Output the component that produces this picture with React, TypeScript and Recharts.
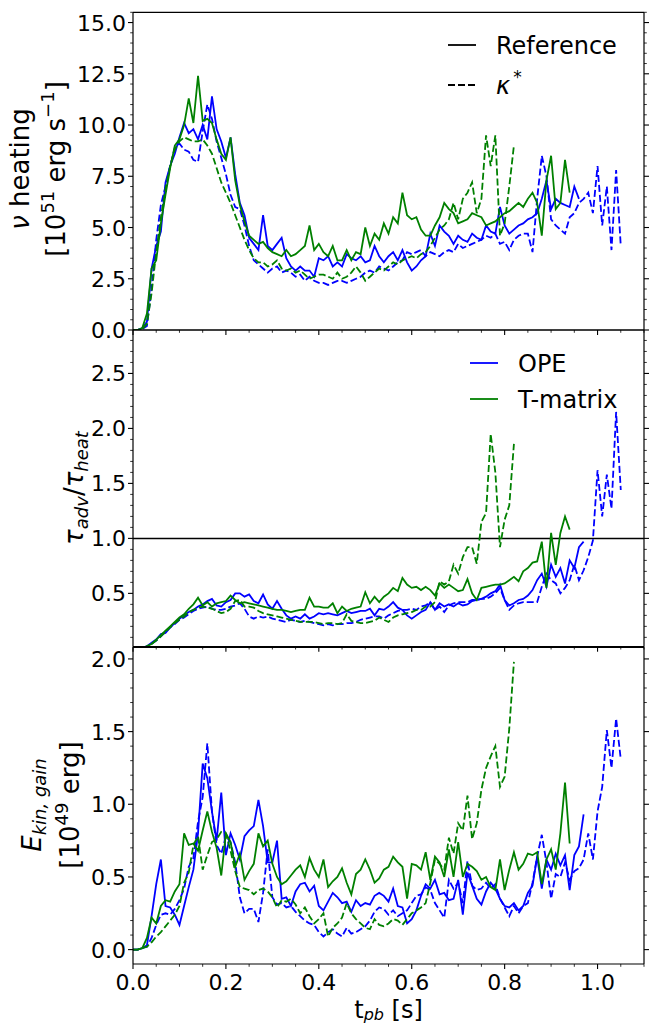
import React from "react";
import { LineChart, Line, XAxis, YAxis, ReferenceLine, Legend } from "recharts";

const BLUE = "#0000ff";
const GREEN = "#008000";
const FONT = "'DejaVu Sans', sans-serif";
const AXIS_LINE = { stroke: "#000", strokeWidth: 1.2 };

// all series sampled every 10 ms of post-bounce time, starting at t = 0
const STEP = 0.01;

// nu heating [1e51 erg/s]
const HEAT_OPE_REF = [
  0, 0, 0.1, 0.4, 3.0, 4.1, 4.8, 7.2, 8.0, 8.6,
  9.4, 10.1, 9.6, 9.8, 9.3, 10.0, 9.3, 11.4, 9.8, 9.2,
  8.4, 9.4, 7.6, 6.2, 5.6, 4.5, 4.2, 3.9, 5.6, 4.1,
  3.9, 4.2, 4.5, 3.5, 3.1, 2.9, 3.1, 2.9, 2.9, 2.6,
  3.5, 3.4, 3.6, 3.1, 3.3, 3.1, 3.7, 3.5, 3.4, 3.6,
  3.3, 3.4, 4.1, 3.6, 3.3, 3.6, 3.8, 3.4, 3.9, 3.3,
  2.9, 3.1, 3.4, 3.6, 4.7, 4.1, 5.1, 4.8, 4.6, 4.2,
  4.6, 4.4, 4.3, 4.7, 4.5, 4.4, 5.1, 4.8, 4.7, 6.0,
  5.1, 4.7, 4.9, 5.1, 5.2, 5.4, 5.5, 5.7, 6.4, 7.3,
  5.9, 6.4, 6.2, 6.1, 6.0, 7.0, 6.4,
];
const HEAT_OPE_KAPPA = [
  0, 0, 0.05, 0.2, 2.0, 4.4, 6.1, 7.0, 8.0, 8.9,
  9.1, 8.8, 8.7, 8.3, 8.2, 9.7, 11.0, 10.3, 9.2, 8.4,
  7.6, 6.6, 6.0, 5.9, 5.1, 4.1, 3.4, 3.2, 3.0, 2.8,
  3.0, 3.1, 2.8, 2.9, 2.8, 2.6, 2.7, 2.4, 2.6, 2.4,
  2.3, 2.3, 2.2, 2.3, 2.4, 2.4, 2.3, 2.4, 2.5, 2.6,
  2.8, 2.9, 2.8, 3.1, 3.0, 2.9, 3.1, 3.3, 3.4, 3.8,
  3.7, 3.8, 3.9, 3.6, 3.8, 3.7, 3.6, 3.8, 3.9, 3.8,
  4.2, 4.0, 4.1, 4.2, 4.3, 4.4, 4.6, 4.5, 4.7, 4.2,
  4.3, 3.9, 4.4, 4.6, 4.7, 4.7, 3.8, 6.4, 8.5, 7.5,
  5.4, 5.1, 4.9, 4.7, 5.5, 5.7, 6.2, 6.4, 6.7, 5.7,
  8.0, 5.1, 7.0, 3.9, 7.8, 4.1,
];
const HEAT_TM_REF = [
  0, 0, 0.1, 0.8, 3.0, 3.4, 5.2, 6.6, 7.9, 9.0,
  9.3, 10.0, 11.3, 10.1, 12.4, 10.2, 10.3, 10.1, 9.3, 8.6,
  8.3, 9.4, 7.3, 6.1, 5.3, 4.6, 4.4, 4.2, 4.3, 4.0,
  3.8, 3.7, 3.6, 3.9, 3.6, 3.7, 3.9, 4.1, 5.1, 3.9,
  4.2, 3.8, 3.6, 4.1, 3.4, 3.4, 3.9, 3.4, 3.8, 3.7,
  5.0, 4.1, 4.7, 4.4, 5.2, 4.7, 5.5, 5.2, 6.7, 5.6,
  5.4, 5.5, 4.9, 4.6, 4.6, 5.1, 5.5, 6.2, 5.9, 5.7,
  5.2, 5.3, 5.4, 5.7, 5.6, 5.5, 5.1, 5.2, 5.3, 5.5,
  5.7, 5.8, 6.0, 6.2, 6.0, 6.4, 6.7, 6.2, 4.6, 7.3,
  8.5, 5.9, 6.2, 8.3, 6.7,
];
const HEAT_TM_KAPPA = [
  0, 0, 0.05, 0.3, 1.8, 3.8, 5.5, 6.9, 8.0, 8.8,
  9.2, 9.4, 9.3, 9.2, 9.2, 9.3, 9.0, 8.6, 7.9, 7.2,
  6.7, 6.2, 5.6, 5.0, 4.4, 3.9, 3.5, 3.3, 3.3, 3.1,
  3.2, 3.4, 3.0, 2.9, 3.0, 2.8, 2.9, 2.7, 2.5, 2.6,
  2.7, 2.7, 2.6, 2.5, 2.8, 2.5, 2.6, 2.8, 3.1, 2.8,
  2.4, 2.6, 2.8, 3.0, 2.9, 3.1, 3.3, 3.2, 3.4, 3.5,
  3.6, 3.5, 3.7, 3.8, 4.1, 4.5, 4.9, 5.1, 5.4, 6.2,
  5.4, 6.4, 6.7, 7.2, 5.7, 6.4, 9.5, 8.0, 9.5, 4.6,
  5.2, 7.0, 9.0,
];

// tau_adv / tau_heat
const TAU_OPE_REF = [
  0, 0, 0, 0.02, 0.05, 0.08, 0.13, 0.14, 0.19, 0.23,
  0.27, 0.30, 0.33, 0.35, 0.38, 0.40, 0.43, 0.45, 0.39, 0.38,
  0.42, 0.44, 0.50, 0.50, 0.47, 0.49, 0.43, 0.41, 0.49, 0.40,
  0.36, 0.43, 0.36, 0.30, 0.27, 0.29, 0.27, 0.31, 0.27, 0.29,
  0.32, 0.31, 0.32, 0.31, 0.30, 0.32, 0.34, 0.32, 0.33, 0.34,
  0.34, 0.36, 0.30, 0.36, 0.35, 0.38, 0.42, 0.37, 0.35, 0.30,
  0.27, 0.30, 0.33, 0.35, 0.42, 0.35, 0.41, 0.38, 0.40, 0.38,
  0.41, 0.39, 0.40, 0.43, 0.44, 0.45, 0.47, 0.50, 0.52, 0.58,
  0.44, 0.39, 0.41, 0.44, 0.45, 0.48, 0.53, 0.62, 0.68, 0.56,
  0.76, 0.65, 0.73, 0.59, 0.80, 0.73, 0.92, 0.97,
];
const TAU_OPE_KAPPA = [
  0, 0, 0, 0.01, 0.04, 0.07, 0.11, 0.15, 0.19, 0.22,
  0.26, 0.28, 0.31, 0.34, 0.36, 0.37, 0.38, 0.36, 0.35, 0.35,
  0.36, 0.38, 0.39, 0.41, 0.36, 0.29, 0.27, 0.29, 0.28, 0.29,
  0.27, 0.26, 0.25, 0.24, 0.26, 0.25, 0.24, 0.25, 0.24, 0.23,
  0.22, 0.21, 0.22, 0.21, 0.22, 0.22, 0.23, 0.23, 0.24, 0.26,
  0.27, 0.28, 0.29, 0.29, 0.27, 0.30, 0.32, 0.34, 0.35, 0.35,
  0.36, 0.35, 0.38, 0.39, 0.42, 0.35, 0.38, 0.33, 0.39, 0.41,
  0.42, 0.42, 0.42, 0.44, 0.44, 0.45, 0.45, 0.47, 0.50, 0.55,
  0.44, 0.35, 0.39, 0.41, 0.42, 0.42, 0.42, 0.42, 0.56, 0.68,
  0.62, 0.59, 0.50, 0.55, 0.62, 0.76, 0.62, 0.71, 0.83, 0.98,
  1.62, 1.20, 1.58, 1.27, 2.15, 1.44,
];
const TAU_TM_REF = [
  0, 0, 0, 0.02, 0.04, 0.08, 0.12, 0.16, 0.20, 0.24,
  0.28, 0.31, 0.36, 0.40, 0.46, 0.39, 0.42, 0.38, 0.41, 0.42,
  0.43, 0.48, 0.44, 0.41, 0.42, 0.41, 0.40, 0.39, 0.38, 0.37,
  0.36, 0.35, 0.35, 0.34, 0.33, 0.34, 0.35, 0.35, 0.46, 0.38,
  0.38, 0.37, 0.37, 0.41, 0.32, 0.38, 0.34, 0.36, 0.37, 0.38,
  0.51, 0.41, 0.47, 0.42, 0.47, 0.50, 0.55, 0.52, 0.64, 0.58,
  0.55, 0.56, 0.53, 0.56, 0.53, 0.48, 0.59, 0.55, 0.58, 0.55,
  0.52, 0.53, 0.63, 0.50, 0.44, 0.55, 0.56, 0.57, 0.58, 0.58,
  0.59, 0.62, 0.65, 0.61, 0.70, 0.73, 0.78, 0.79, 0.97, 0.55,
  1.05, 0.76, 1.05, 1.20, 1.08,
];
const TAU_TM_KAPPA = [
  0, 0, 0, 0.01, 0.04, 0.07, 0.11, 0.15, 0.19, 0.23,
  0.26, 0.29, 0.33, 0.35, 0.37, 0.38, 0.37, 0.36, 0.34, 0.32,
  0.33, 0.36, 0.43, 0.44, 0.38, 0.38, 0.37, 0.34, 0.32, 0.31,
  0.30, 0.29, 0.28, 0.27, 0.26, 0.25, 0.24, 0.24, 0.24, 0.24,
  0.23, 0.22, 0.23, 0.23, 0.22, 0.23, 0.31, 0.25, 0.24, 0.23,
  0.23, 0.24, 0.25, 0.28, 0.26, 0.24, 0.28, 0.30, 0.31, 0.32,
  0.33, 0.35, 0.35, 0.38, 0.38, 0.42, 0.61, 0.58, 0.61, 0.76,
  0.68, 0.83, 0.92, 0.92, 0.77, 1.15, 1.23, 1.95, 1.60, 0.92,
  1.17, 1.30, 1.86,
];

// E_kin in gain layer [1e49 erg]
const EKIN_OPE_REF = [
  0, 0, 0.01, 0.03, 0.23, 0.45, 0.62, 0.30, 0.29, 0.24,
  0.17, 0.30, 0.43, 0.55, 0.80, 1.28, 1.18, 0.95, 0.75, 1.08,
  0.65, 0.80, 0.72, 0.62, 0.78, 0.82, 0.85, 1.03, 0.85, 0.60,
  0.60, 0.75, 0.35, 0.36, 0.30, 0.40, 0.45, 0.46, 0.40, 0.44,
  0.30, 0.27, 0.33, 0.39, 0.36, 0.32, 0.33, 0.26, 0.34, 0.30,
  0.32, 0.31, 0.37, 0.39, 0.37, 0.33, 0.42, 0.30, 0.29, 0.18,
  0.21, 0.27, 0.37, 0.45, 0.42, 0.48, 0.38, 0.39, 0.34, 0.35,
  0.48, 0.24, 0.53, 0.44, 0.35, 0.31, 0.40, 0.46, 0.42, 0.35,
  0.30, 0.29, 0.32, 0.27, 0.30, 0.39, 0.44, 0.64, 0.42, 0.62,
  0.55, 0.66, 0.58, 0.65, 0.41, 0.65, 0.71, 0.93,
];
const EKIN_OPE_KAPPA = [
  0, 0, 0.01, 0.02, 0.08, 0.17, 0.24, 0.25, 0.24, 0.28,
  0.34, 0.42, 0.57, 0.63, 0.88, 1.05, 1.42, 0.95, 0.72, 0.66,
  0.78, 0.74, 0.60, 0.36, 0.25, 0.28, 0.28, 0.19, 0.39, 0.69,
  0.36, 0.31, 0.32, 0.29, 0.30, 0.26, 0.23, 0.20, 0.18, 0.17,
  0.12, 0.09, 0.12, 0.14, 0.11, 0.09, 0.15, 0.11, 0.12, 0.14,
  0.16, 0.20, 0.26, 0.29, 0.28, 0.24, 0.27, 0.23, 0.25, 0.27,
  0.32, 0.37, 0.38, 0.43, 0.41, 0.32, 0.27, 0.22, 0.48, 0.42,
  0.46, 0.32, 0.61, 0.44, 0.41, 0.42, 0.46, 0.42, 0.45, 0.35,
  0.29, 0.23, 0.30, 0.25, 0.30, 0.32, 0.46, 0.64, 0.79, 0.60,
  0.35, 0.52, 0.50, 0.60, 0.48, 0.54, 0.56, 0.62, 0.80, 0.62,
  0.95, 1.12, 1.51, 1.25, 1.59, 1.31,
];
const EKIN_TM_REF = [
  0, 0, 0.01, 0.08, 0.22, 0.18, 0.30, 0.34, 0.33, 0.40,
  0.45, 0.80, 0.72, 0.73, 0.68, 0.82, 0.95, 0.81, 0.70, 0.51,
  0.80, 0.74, 0.57, 0.66, 0.48, 0.54, 0.59, 0.80, 0.71, 0.75,
  0.59, 0.50, 0.45, 0.47, 0.51, 0.55, 0.58, 0.50, 0.63, 0.55,
  0.50, 0.62, 0.43, 0.47, 0.50, 0.56, 0.46, 0.38, 0.52, 0.55,
  0.62, 0.55, 0.46, 0.49, 0.55, 0.57, 0.64, 0.60, 0.57, 0.35,
  0.59, 0.58, 0.55, 0.67, 0.48, 0.64, 0.60, 0.50, 0.69, 0.50,
  0.74, 0.50, 0.59, 0.57, 0.54, 0.48, 0.50, 0.43, 0.41, 0.62,
  0.41, 0.55, 0.67, 0.55, 0.59, 0.66, 0.65, 0.67, 0.45, 0.62,
  0.69, 0.55, 0.80, 1.15, 0.73,
];
const EKIN_TM_KAPPA = [
  0, 0, 0.01, 0.02, 0.05, 0.09, 0.12, 0.16, 0.20, 0.24,
  0.30, 0.46, 0.53, 0.72, 0.78, 0.55, 0.65, 0.74, 0.76, 0.81,
  0.80, 0.68, 0.54, 0.43, 0.42, 0.41, 0.38, 0.41, 0.42, 0.40,
  0.36, 0.29, 0.34, 0.33, 0.35, 0.31, 0.25, 0.29, 0.23, 0.18,
  0.21, 0.25, 0.09, 0.15, 0.18, 0.22, 0.32, 0.25, 0.21, 0.18,
  0.15, 0.14, 0.21, 0.17, 0.16, 0.18, 0.21, 0.20, 0.17, 0.21,
  0.25, 0.27, 0.29, 0.32, 0.46, 0.62, 0.59, 0.55, 0.77, 0.66,
  0.87, 0.82, 1.06, 0.76, 0.87, 1.10, 1.25, 1.33, 1.40, 1.12,
  1.19, 1.52, 1.98,
];

const X_MAJOR = [0, 0.2, 0.4, 0.6, 0.8, 1.0];
const HEAT_MAJOR = [0, 2.5, 5, 7.5, 10, 12.5, 15];
const TAU_MAJOR = [0.5, 1, 1.5, 2, 2.5];
const EKIN_MAJOR = [0, 0.5, 1, 1.5, 2];

const steps = (from: number, to: number, step: number) => {
  const out: number[] = [];
  for (let i = 0; from + i * step <= to + 1e-9; i++) out.push(+(from + i * step).toFixed(3));
  return out;
};

const X_ALL = steps(0, 1.1, 0.05);
const HEAT_ALL = steps(0, 15.5, 0.5);
const TAU_ALL = steps(0.1, 2.8, 0.1);
const EKIN_ALL = steps(0, 2.0, 0.1);

const isMajor = (majors: number[], v: number) => majors.some((m) => Math.abs(m - v) < 1e-6);

const toPoints = (values: number[]) =>
  values.map((v, i) => ({ t: Math.round(i * STEP * 1000) / 1000, v }));

function xTick(side: "top" | "bottom", labels: boolean) {
  return (p: any) => {
    const v = p.payload.value;
    const major = isMajor(X_MAJOR, v);
    const dir = side === "bottom" ? 1 : -1;
    return (
      <g>
        <line x1={p.x} x2={p.x} y1={p.y} y2={p.y + dir * (major ? 5 : 2.8)} stroke="#000" strokeWidth={major ? 1.1 : 0.8} />
        {labels && major && (
          <text x={p.x} y={p.y + 26} textAnchor="middle" fontSize={22} fontFamily={FONT} fill="#000">
            {v.toFixed(1)}
          </text>
        )}
      </g>
    );
  };
}

function yTick(majors: number[], side: "left" | "right") {
  return (p: any) => {
    const v = p.payload.value;
    const major = isMajor(majors, v);
    const dir = side === "left" ? -1 : 1;
    return (
      <g>
        <line x1={p.x} x2={p.x + dir * (major ? 5 : 2.8)} y1={p.y} y2={p.y} stroke="#000" strokeWidth={major ? 1.1 : 0.8} />
        {side === "left" && major && (
          <text x={p.x - 7} y={p.y} dy={8} textAnchor="end" fontSize={22} fontFamily={FONT} fill="#000">
            {v.toFixed(1)}
          </text>
        )}
      </g>
    );
  };
}

const rot = (bx: number, cy: number) => `translate(${bx},${cy}) rotate(-90)`;

const HeatLabel = () => (
  <g fontFamily={FONT} fontSize={26} fill="#000">
    <text transform={rot(29, 169)} textAnchor="middle">
      <tspan fontStyle="italic">ν</tspan> heating
    </text>
    <text transform={rot(65, 169)} textAnchor="middle">
      [10<tspan fontSize={18} dy={-11}>51</tspan>
      <tspan dy={11}> erg s</tspan>
      <tspan fontSize={18} dy={-11}>−1</tspan>
      <tspan dy={11}>]</tspan>
    </text>
  </g>
);

const TauLabel = () => (
  <g fontFamily={FONT} fontSize={26} fill="#000">
    <text transform={rot(83, 168)} textAnchor="middle">
      <tspan fontStyle="italic">τ</tspan>
      <tspan fontStyle="italic" fontSize={18} dy={5}>adv</tspan>
      <tspan dy={-5}>/</tspan>
      <tspan fontStyle="italic">τ</tspan>
      <tspan fontStyle="italic" fontSize={18} dy={5}>heat</tspan>
    </text>
  </g>
);

const EkinLabel = () => (
  <g fontFamily={FONT} fontSize={26} fill="#000">
    <text transform={rot(41, 168)} textAnchor="middle">
      <tspan fontStyle="italic">E</tspan>
      <tspan fontStyle="italic" fontSize={18} dy={5}>kin, gain</tspan>
    </text>
    <text transform={rot(79, 168)} textAnchor="middle">
      [10<tspan fontSize={18} dy={-11}>49</tspan>
      <tspan dy={11}> erg]</tspan>
    </text>
  </g>
);

const TimeLabel = () => (
  <text x={388.5} y={381} textAnchor="middle" fontFamily={FONT} fontSize={24} fill="#000">
    t<tspan fontStyle="italic" fontSize={16} dy={2}>pb</tspan>
    <tspan dy={-2}> [s]</tspan>
  </text>
);

const StyleLegend = () => (
  <svg width={200} height={90} style={{ display: "block" }} fontFamily={FONT} fill="#000">
    <line x1={8} x2={36} y1={25} y2={25} stroke="#000" strokeWidth={1.8} />
    <text x={56} y={34} fontSize={24}>Reference</text>
    <line x1={8} x2={36} y1={65} y2={65} stroke="#000" strokeWidth={1.8} strokeDasharray="7 3" />
    <text x={56} y={74} fontSize={24}>
      <tspan fontStyle="italic">κ</tspan>
      <tspan fontSize={17} dx={3} dy={-11}>*</tspan>
    </text>
  </svg>
);

const ModelLegend = () => (
  <svg width={190} height={70} style={{ display: "block" }} fontFamily={FONT} fill="#000">
    <line x1={10} x2={38} y1={13} y2={13} stroke={BLUE} strokeWidth={1.8} />
    <text x={58} y={22} fontSize={24}>OPE</text>
    <line x1={10} x2={38} y1={49} y2={49} stroke={GREEN} strokeWidth={1.8} />
    <text x={58} y={58} fontSize={24}>T-matrix</text>
  </svg>
);

type Series = { key: string; values: number[]; color: string; dashed: boolean };

interface PanelProps {
  top: number;
  height: number;
  margin: { top: number; right: number; bottom: number; left: number };
  bottomHeight: number;
  series: Series[];
  yDomain: [number, number];
  yMajor: number[];
  yAll: number[];
  xLabels: boolean;
  yLabel: () => React.ReactElement;
  legend?: { content: () => React.ReactElement; left: number; top: number };
  refLine?: boolean;
}

function Panel(p: PanelProps) {
  return (
    <div style={{ position: "absolute", left: 0, top: p.top, width: 652, height: p.height }}>
      <LineChart width={652} height={p.height} margin={p.margin}>
        <XAxis
          xAxisId="top"
          orientation="top"
          type="number"
          domain={[0, 1.1]}
          allowDataOverflow
          ticks={X_ALL}
          interval={0}
          tickSize={0}
          tickMargin={0}
          tickLine={false}
          height={6}
          axisLine={AXIS_LINE}
          tick={xTick("top", false)}
        />
        <XAxis
          type="number"
          dataKey="t"
          domain={[0, 1.1]}
          allowDataOverflow
          ticks={X_ALL}
          interval={0}
          tickSize={0}
          tickMargin={0}
          tickLine={false}
          height={p.bottomHeight}
          axisLine={AXIS_LINE}
          tick={xTick("bottom", p.xLabels)}
          label={p.xLabels ? () => <TimeLabel /> : undefined}
        />
        <YAxis
          type="number"
          domain={p.yDomain}
          allowDataOverflow
          ticks={p.yAll}
          interval={0}
          tickSize={0}
          tickMargin={0}
          tickLine={false}
          width={40}
          axisLine={AXIS_LINE}
          tick={yTick(p.yMajor, "left")}
          label={p.yLabel}
        />
        <YAxis
          yAxisId="right"
          orientation="right"
          type="number"
          domain={p.yDomain}
          allowDataOverflow
          ticks={p.yAll}
          interval={0}
          tickSize={0}
          tickMargin={0}
          tickLine={false}
          width={4}
          axisLine={AXIS_LINE}
          tick={yTick(p.yMajor, "right")}
        />
        {p.refLine && <ReferenceLine y={1} stroke="#000" strokeWidth={1.5} />}
        {p.series.map((s) => (
          <Line
            key={s.key}
            data={toPoints(s.values)}
            dataKey="v"
            type="linear"
            stroke={s.color}
            strokeWidth={1.8}
            strokeDasharray={s.dashed ? "7 3" : undefined}
            dot={false}
            activeDot={false}
            isAnimationActive={false}
          />
        ))}
        {p.legend && (
          <Legend
            layout="vertical"
            align="center"
            verticalAlign="middle"
            content={p.legend.content}
            wrapperStyle={{ left: p.legend.left, top: p.legend.top, width: "auto", height: "auto" }}
          />
        )}
      </LineChart>
    </div>
  );
}

export default function App() {
  return (
    <div style={{ position: "absolute", left: 0, top: 0, width: 652, height: 1024, background: "#fff", fontFamily: FONT }}>
      <Panel
        top={0}
        height={345}
        margin={{ top: 6.3, right: 4, bottom: 9, left: 93 }}
        bottomHeight={6}
        yDomain={[0, 15.5]}
        yMajor={HEAT_MAJOR}
        yAll={HEAT_ALL}
        xLabels={false}
        yLabel={() => <HeatLabel />}
        legend={{ content: () => <StyleLegend />, left: 440, top: 20 }}
        series={[
          { key: "ope-ref", values: HEAT_OPE_REF, color: BLUE, dashed: false },
          { key: "ope-kappa", values: HEAT_OPE_KAPPA, color: BLUE, dashed: true },
          { key: "tm-ref", values: HEAT_TM_REF, color: GREEN, dashed: false },
          { key: "tm-kappa", values: HEAT_TM_KAPPA, color: GREEN, dashed: true },
        ]}
      />
      <Panel
        top={320}
        height={335}
        margin={{ top: 4, right: 4, bottom: 2.3, left: 93 }}
        bottomHeight={6}
        yDomain={[0.015, 2.895]}
        yMajor={TAU_MAJOR}
        yAll={TAU_ALL}
        xLabels={false}
        yLabel={() => <TauLabel />}
        legend={{ content: () => <ModelLegend />, left: 460, top: 30 }}
        refLine
        series={[
          { key: "ope-ref", values: TAU_OPE_REF, color: BLUE, dashed: false },
          { key: "ope-kappa", values: TAU_OPE_KAPPA, color: BLUE, dashed: true },
          { key: "tm-ref", values: TAU_TM_REF, color: GREEN, dashed: false },
          { key: "tm-kappa", values: TAU_TM_KAPPA, color: GREEN, dashed: true },
        ]}
      />
      <Panel
        top={637}
        height={387}
        margin={{ top: 4.3, right: 4, bottom: 30, left: 93 }}
        bottomHeight={30}
        yDomain={[-0.099, 2.08]}
        yMajor={EKIN_MAJOR}
        yAll={EKIN_ALL}
        xLabels
        yLabel={() => <EkinLabel />}
        series={[
          { key: "ope-ref", values: EKIN_OPE_REF, color: BLUE, dashed: false },
          { key: "ope-kappa", values: EKIN_OPE_KAPPA, color: BLUE, dashed: true },
          { key: "tm-ref", values: EKIN_TM_REF, color: GREEN, dashed: false },
          { key: "tm-kappa", values: EKIN_TM_KAPPA, color: GREEN, dashed: true },
        ]}
      />
    </div>
  );
}
